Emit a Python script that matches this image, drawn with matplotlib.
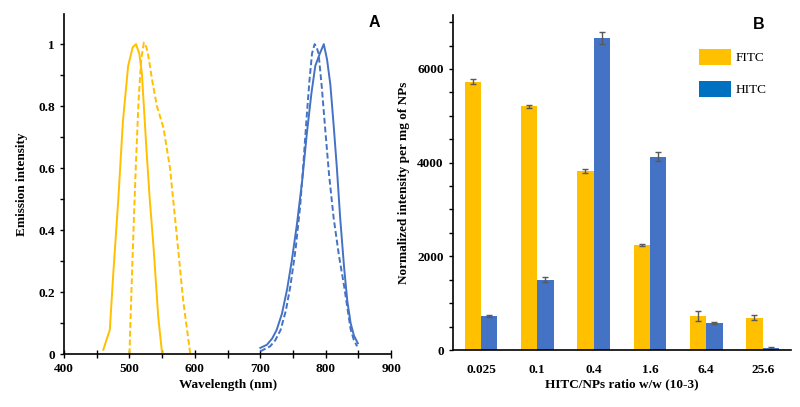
import numpy as np
import matplotlib.pyplot as plt
from matplotlib.patches import Patch
from matplotlib.ticker import MultipleLocator

# Panel A - emission spectra
fitc_solid_x = [460, 470, 475, 483, 490, 498, 505, 510, 515, 519, 526, 531, 537, 544, 550]
fitc_solid_y = [0.014, 0.078, 0.25, 0.5, 0.75, 0.93, 0.99, 1.0, 0.97, 0.906, 0.66, 0.5, 0.34, 0.12, 0.0]
fitc_dash_x = [500, 503, 506, 510, 514, 518, 522, 526, 529, 535, 542, 552, 562, 572, 582, 593]
fitc_dash_y = [0.0, 0.2, 0.39, 0.62, 0.82, 0.95, 1.005, 0.99, 0.96, 0.88, 0.8, 0.73, 0.6, 0.39, 0.175, 0.0]
hitc_solid_x = [700, 710, 718, 725, 733, 741, 748, 756, 764, 771, 778, 784, 791, 797, 802, 807, 812, 817, 822, 828, 833, 838, 843, 849]
hitc_solid_y = [0.02, 0.03, 0.05, 0.078, 0.13, 0.21, 0.3, 0.42, 0.56, 0.71, 0.84, 0.93, 0.97, 1.0, 0.95, 0.87, 0.74, 0.6, 0.44, 0.28, 0.17, 0.1, 0.06, 0.035]
hitc_dash_x = [700, 715, 723, 731, 739, 746, 754, 761, 766, 771, 775, 779, 783, 786, 789, 794, 799, 805, 812, 820, 828, 833, 838, 843, 848]
hitc_dash_y = [0.009, 0.025, 0.045, 0.078, 0.14, 0.22, 0.34, 0.48, 0.62, 0.77, 0.88, 0.97, 1.0, 0.99, 0.97, 0.86, 0.73, 0.58, 0.44, 0.32, 0.22, 0.15, 0.08, 0.045, 0.025]

# Panel B - normalized intensity
ratios = ['0.025', '0.1', '0.4', '1.6', '6.4', '25.6']
fitc = [5730, 5200, 3820, 2250, 730, 690]
fitc_err = [50, 40, 45, 20, 100, 55]
hitc = [730, 1500, 6660, 4130, 575, 40]
hitc_err = [20, 50, 120, 100, 25, 15]

orange = '#FFC000'
blue = '#4472C4'
serif = 'Liberation Serif'
tick_size = 9.5
label_size = 9.5

fig = plt.figure(figsize=(8, 4.07), dpi=100)

# ---- Panel A
axA = fig.add_axes([0.08, 0.130, 0.409, 0.8354])
axA.plot(fitc_solid_x, fitc_solid_y, color=orange, lw=1.4)
axA.plot(fitc_dash_x, fitc_dash_y, color=orange, lw=1.4, ls=(0, (3, 1.5)))
axA.plot(hitc_solid_x, hitc_solid_y, color=blue, lw=1.4)
axA.plot(hitc_dash_x, hitc_dash_y, color=blue, lw=1.4, ls=(0, (3, 1.5)))
axA.set_xlim(400, 900)
axA.set_ylim(0, 1.097)
axA.set_xticks([400, 500, 600, 700, 800, 900])
axA.xaxis.set_minor_locator(MultipleLocator(50))
axA.set_yticks([0, 0.2, 0.4, 0.6, 0.8, 1.0])
axA.set_yticklabels(['0', '0.2', '0.4', '0.6', '0.8', '1'])
axA.yaxis.set_minor_locator(MultipleLocator(0.1))
axA.tick_params(axis='x', which='both', direction='inout', length=6, width=1)
axA.tick_params(axis='y', which='both', direction='out', length=3, width=1)
for lab in axA.get_xticklabels() + axA.get_yticklabels():
    lab.set_family(serif)
    lab.set_weight('bold')
    lab.set_fontsize(tick_size)
axA.spines['top'].set_visible(False)
axA.spines['right'].set_visible(False)
axA.spines['left'].set_linewidth(1.2)
axA.spines['bottom'].set_linewidth(1.2)
axA.set_xlabel('Wavelength (nm)', family=serif, weight='bold', fontsize=label_size, labelpad=3)
axA.set_ylabel('Emission intensity', family=serif, weight='bold', fontsize=label_size, labelpad=7)
fig.text(0.468, 0.945, 'A', family='Liberation Sans', weight='bold', fontsize=11.5, ha='center', va='center')

# ---- Panel B
axB = fig.add_axes([0.566, 0.140, 0.4225, 0.823])
x = np.arange(len(ratios))
w = 0.29
axB.bar(x - w / 2, fitc, w, color=orange, yerr=fitc_err, capsize=2,
        error_kw=dict(ecolor='#595959', elinewidth=1, capthick=1))
axB.bar(x + w / 2, hitc, w, color=blue, yerr=hitc_err, capsize=2,
        error_kw=dict(ecolor='#595959', elinewidth=1, capthick=1))
axB.set_xlim(-0.5, len(ratios) - 0.5)
axB.set_ylim(0, 7150)
axB.set_xticks(x)
axB.set_xticklabels(ratios)
axB.set_yticks([0, 2000, 4000, 6000])
axB.yaxis.set_minor_locator(MultipleLocator(500))
axB.tick_params(axis='x', length=0, pad=10)
axB.tick_params(axis='y', which='both', direction='out', length=3, width=1)
for lab in axB.get_xticklabels() + axB.get_yticklabels():
    lab.set_family(serif)
    lab.set_weight('bold')
    lab.set_fontsize(tick_size)
axB.spines['top'].set_visible(False)
axB.spines['right'].set_visible(False)
axB.spines['left'].set_linewidth(1.2)
axB.spines['bottom'].set_linewidth(1.2)
axB.set_xlabel('HITC/NPs ratio w/w (10-3)', family=serif, weight='bold', fontsize=label_size, labelpad=2)
axB.set_ylabel('Normalized intensity per mg of NPs', family=serif, weight='bold', fontsize=label_size, labelpad=5)
fig.text(0.948, 0.94, 'B', family='Liberation Sans', weight='bold', fontsize=11.5, ha='center', va='center')

handles = [Patch(facecolor=orange, label='FITC'), Patch(facecolor='#0070C0', label='HITC')]
axB.legend(handles=handles, loc='upper right', bbox_to_anchor=(0.965, 0.935), frameon=False,
           prop=dict(family=serif, size=9.5), handlelength=2.4, handleheight=1.5,
           labelspacing=1.2, handletextpad=0.4)

fig.savefig('out.png', dpi=100)
